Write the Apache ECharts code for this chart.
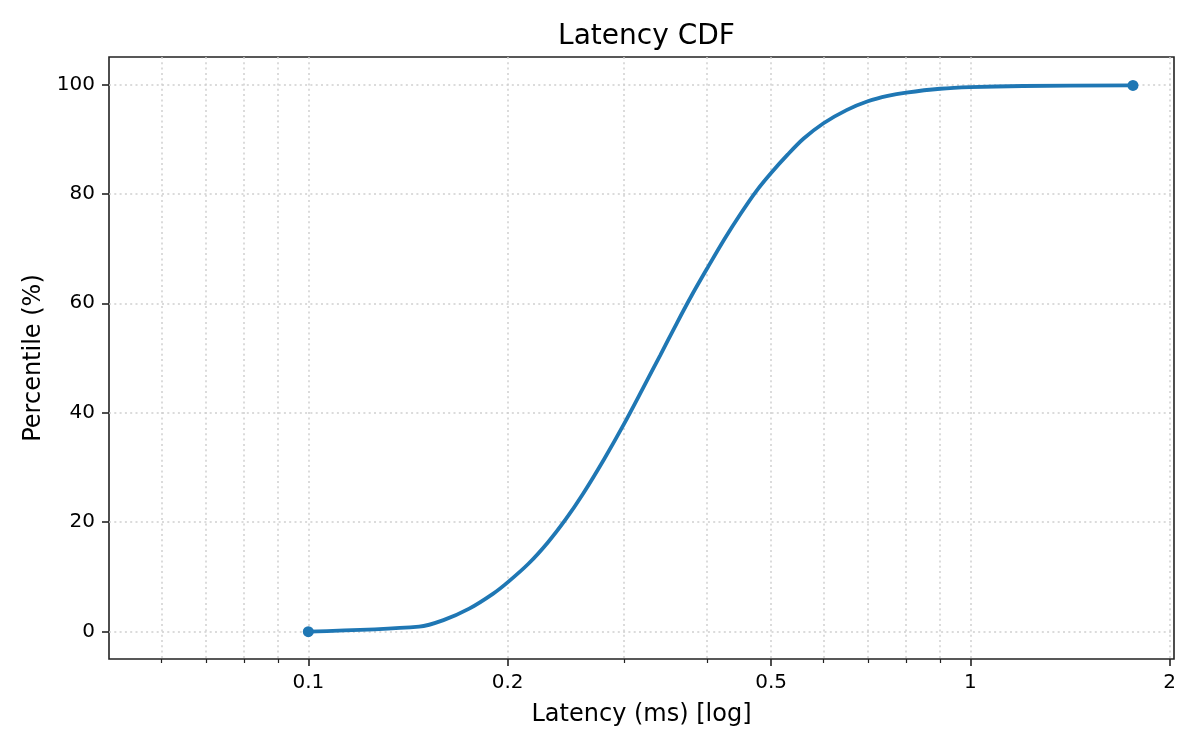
<!DOCTYPE html>
<html>
<head>
<meta charset="utf-8">
<script src="https://cdn.jsdelivr.net/npm/echarts@6/dist/echarts.min.js"></script>
<style>
html,body{margin:0;padding:0;background:#fff;}
#chart{width:1200px;height:750px;}
</style>
</head>
<body>
<div id="chart"></div>
<script>
// Data
const latencyMs = [0.1, 0.147, 0.16, 0.175, 0.19, 0.2, 0.215, 0.23, 0.245, 0.26, 0.28, 0.3, 0.32, 0.34, 0.36, 0.38, 0.4, 0.425, 0.45, 0.475, 0.5, 0.53, 0.56, 0.6, 0.65, 0.7, 0.75, 0.8, 0.9, 1.0, 1.2, 1.76];
const percentile = [0, 0.9, 2.1, 4.2, 6.9, 9.0, 12.4, 16.3, 20.6, 25.2, 31.6, 38.0, 44.4, 50.5, 56.3, 61.6, 66.3, 71.7, 76.4, 80.5, 83.8, 87.2, 90.1, 92.9, 95.3, 96.9, 97.9, 98.5, 99.2, 99.5, 99.7, 99.8];
const xMajorTicks = [0.1, 0.2, 0.5, 1, 2];
const xMinorTicks = [0.06, 0.07, 0.08, 0.09, 0.3, 0.4, 0.6, 0.7, 0.8, 0.9];
const yTicks = [0, 20, 40, 60, 80, 100];
const xRange = [0.05, 2.03];
const yRange = [-5, 105];

const lineData = latencyMs.map((x, i) => [x, percentile[i]]);
const endPoints = [lineData[0], lineData[lineData.length - 1]];

const FONT = 'DejaVu Sans';
const gridLine = { show: true, lineStyle: { color: '#cfcfcf', width: 1.5, type: [2, 3.3] } };

const chart = echarts.init(document.getElementById('chart'), null, { renderer: 'canvas' });
chart.setOption({
  animation: false,
  backgroundColor: '#ffffff',
  title: {
    text: 'Latency CDF',
    left: 641.5,
    textAlign: 'center',
    top: 18,
    textStyle: { fontFamily: FONT, fontSize: 28, fontWeight: 'normal', color: '#000' }
  },
  grid: {
    left: 109, right: 26, top: 57, bottom: 91,
    show: true, borderColor: '#222', borderWidth: 1.6, backgroundColor: 'transparent',
    containLabel: false
  },
  xAxis: [
    {
      type: 'log', logBase: 10, min: xRange[0], max: xRange[1],
      position: 'bottom',
      name: 'Latency (ms) [log]', nameLocation: 'middle', nameGap: 44,
      nameTextStyle: { fontFamily: FONT, fontSize: 24, color: '#000' },
      axisLine: { show: false, onZero: false },
      axisTick: { show: true, customValues: xMajorTicks, length: 7, lineStyle: { color: '#222', width: 1.6 } },
      axisLabel: {
        customValues: xMajorTicks, margin: 14,
        fontFamily: FONT, fontSize: 20, color: '#000',
        formatter: v => String(+Number(v).toPrecision(3))
      },
      splitLine: gridLine,
      minorTick: { show: false }, minorSplitLine: { show: false }
    },
    {
      type: 'log', logBase: 10, min: xRange[0], max: xRange[1],
      position: 'bottom',
      axisLine: { show: false, onZero: false },
      axisTick: { show: true, customValues: xMinorTicks, length: 4, lineStyle: { color: '#222', width: 1.2 } },
      axisLabel: { show: false },
      splitLine: gridLine
    }
  ],
  yAxis: {
    type: 'value', min: yRange[0], max: yRange[1],
    name: 'Percentile (%)', nameLocation: 'middle', nameGap: 62,
    nameTextStyle: { fontFamily: FONT, fontSize: 24, color: '#000' },
    axisLine: { show: false, onZero: false },
    axisTick: { show: true, customValues: yTicks, length: 7, lineStyle: { color: '#222', width: 1.6 } },
    axisLabel: { customValues: yTicks, margin: 14, fontFamily: FONT, fontSize: 20, color: '#000' },
    splitLine: gridLine
  },
  series: [
    {
      type: 'line', xAxisIndex: 0, data: lineData,
      showSymbol: false, smooth: 0.3,
      lineStyle: { color: '#1f77b4', width: 3.8 },
      itemStyle: { color: '#1f77b4' },
      z: 3
    },
    {
      type: 'scatter', xAxisIndex: 0, data: endPoints,
      symbol: 'circle', symbolSize: 11,
      itemStyle: { color: '#1f77b4', opacity: 1 },
      z: 4
    }
  ]
});
</script>
</body>
</html>
